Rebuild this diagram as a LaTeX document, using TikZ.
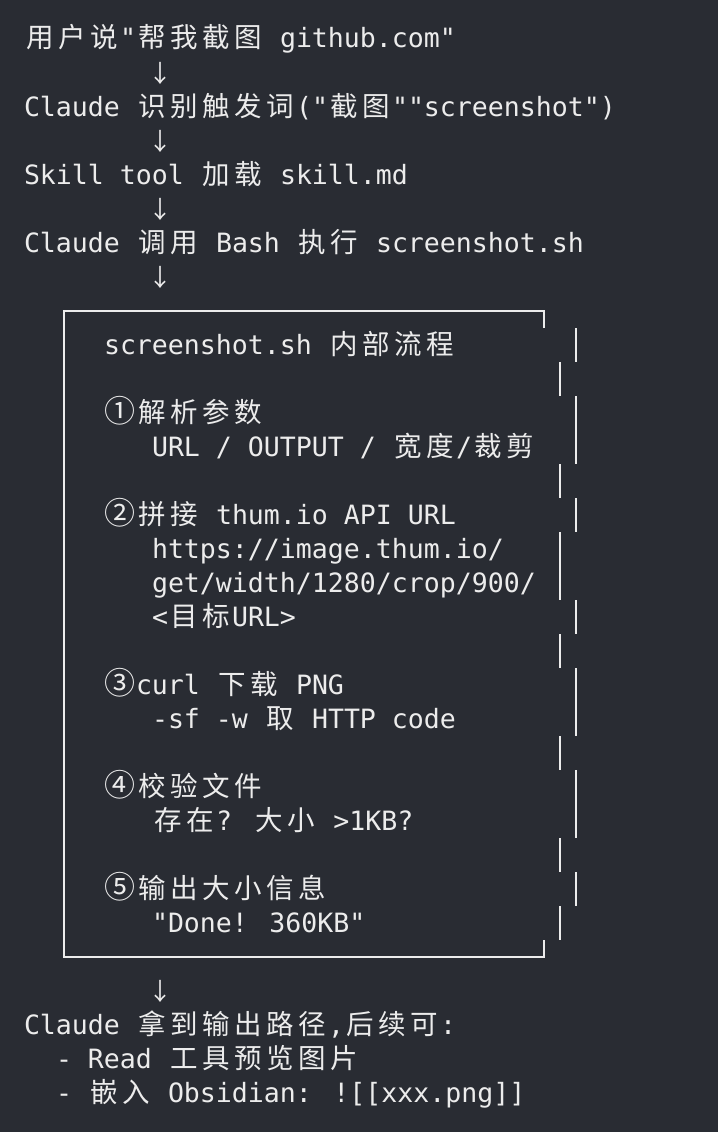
\documentclass[tikz,border=0pt]{standalone}
\usepackage{fontspec}
\newfontfamily\monof{DejaVu Sans Mono}
\newfontfamily\cjkf{Noto Sans CJK SC}
\definecolor{bgc}{RGB}{41,44,51}
\definecolor{fgc}{RGB}{236,236,236}
\makeatletter
\newcommand\cj[1]{{\cjkf\fontsize{27.5}{30}\selectfont\cj@loop#1\relax}}
\def\cj@loop#1{\ifx\relax#1\else\makebox[32pt][c]{#1}\expandafter\cj@loop\fi}
\makeatother
\newcommand\cnum[1]{\makebox[32pt][c]{\cjkf\fontsize{31}{30}\selectfont #1}}
\newcommand\darr{\makebox[16pt][c]{\cjkf\fontsize{24}{34}\selectfont ↓}}
\tikzset{
  txt/.style={anchor=base west, inner sep=0pt, outer sep=0pt, text=fgc,
    font=\monof\fontsize{26.576}{34}\selectfont},
  bar/.style={draw=fgc, line width=2pt, line cap=butt, line join=miter}
}
\begin{document}
\begin{tikzpicture}[x=1pt,y=1pt]
\fill[bgc] (0,0) rectangle (718,-1132);
% column c -> x = 24+16c ; row k -> baseline y = -(48+34k)
\node[txt] (l0) at (24,-48) {\cj{用户说}"\cj{帮我截图} github.com"};
\node[txt] (a1) at (152,-82) {\darr};
\node[txt] (l2) at (24,-116) {Claude \cj{识别触发词}("\cj{截图}""screenshot")};
\node[txt] (a3) at (152,-150) {\darr};
\node[txt] (l4) at (24,-184) {Skill tool \cj{加载} skill.md};
\node[txt] (a5) at (152,-218) {\darr};
\node[txt] (l6) at (24,-252) {Claude \cj{调用} Bash \cj{执行} screenshot.sh};
\node[txt] (a7) at (152,-286) {\darr};
% box
\draw[bar] (544,-328) -- (544,-311) -- (64,-311) -- (64,-957) -- (544,-957) -- (544,-940);
\foreach \k/\x in {9/576,10/560,11/576,12/576,13/560,14/576,15/560,16/560,17/576,18/560,19/576,20/576,21/560,22/576,23/576,24/560,25/576,26/560}
  \draw[bar] (\x,{-(22+34*\k)}) -- (\x,{-(56+34*\k)});
\node[txt] (b9) at (104,-354) {screenshot.sh \cj{内部流程}};
\node[txt] (b11) at (104,-422) {\cnum{①}\cj{解析参数}};
\node[txt] (b12) at (152,-456) {URL / OUTPUT / \cj{宽度}/\cj{裁剪}};
\node[txt] (b14) at (104,-524) {\cnum{②}\cj{拼接} thum.io API URL};
\node[txt] (b15) at (152,-558) {https://image.thum.io/};
\node[txt] (b16) at (152,-592) {get/width/1280/crop/900/};
\node[txt] (b17) at (152,-626) {<\cj{目标}URL>};
\node[txt] (b19) at (104,-694) {\cnum{③}curl \cj{下载} PNG};
\node[txt] (b20) at (152,-728) {-sf -w \cj{取} HTTP code};
\node[txt] (b22) at (104,-796) {\cnum{④}\cj{校验文件}};
\node[txt] (b23) at (152,-830) {\cj{存在}? \cj{大小} >1KB?};
\node[txt] (b25) at (104,-898) {\cnum{⑤}\cj{输出大小信息}};
\node[txt] (b26) at (152,-932) {"Done! 360KB"};
% after box
\node[txt] (a28) at (152,-1000) {\darr};
\node[txt] (l29) at (24,-1034) {Claude \cj{拿到输出路径},\cj{后续可}:};
\node[txt] (l30) at (56,-1068) {- Read \cj{工具预览图片}};
\node[txt] (l31) at (56,-1102) {- \cj{嵌入} Obsidian: ![[xxx.png]]};
\end{tikzpicture}
\end{document}
